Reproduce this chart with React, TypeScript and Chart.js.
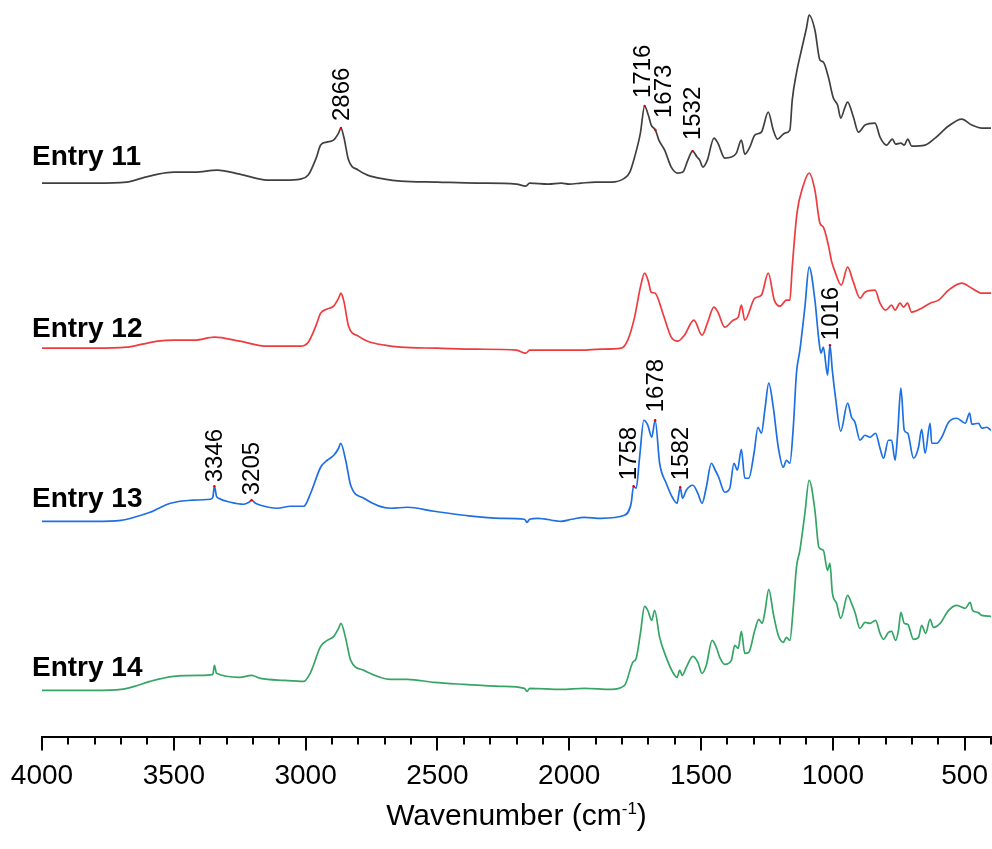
import React, { useEffect, useRef } from "react";
import { Chart, registerables } from "chart.js";

Chart.register(...registerables);

// ---------- data (wavenumber in cm-1, intensity in arbitrary units above each trace's baseline) ----------
const SERIES_NAMES = ["Entry 11", "Entry 12", "Entry 13", "Entry 14"];
const SERIES_COLORS = ["#404040", "#ee3b3e", "#1d6fe2", "#35a565"];
const SERIES_OFFSETS = [554, 389, 216, 47];

const WN_11 = [4000, 3800, 3680, 3620, 3560, 3500, 3420, 3335, 3250, 3145, 3080, 3020, 2990, 2960, 2943, 2920, 2894, 2875, 2866, 2855, 2837, 2800, 2765, 2700, 2640, 2500, 2350, 2200, 2165, 2150, 2080, 2030, 2000, 1955, 1900, 1841, 1790, 1770, 1752, 1730, 1714, 1700, 1689, 1673, 1660, 1638, 1613, 1588, 1569, 1550, 1532, 1515, 1505, 1493, 1476, 1451, 1436, 1410, 1385, 1366, 1347, 1334, 1315, 1296, 1271, 1245, 1226, 1210, 1182, 1163, 1154, 1138, 1119, 1100, 1090, 1068, 1049, 1036, 1017, 998, 982, 970, 955, 944, 922, 903, 878, 840, 821, 796, 774, 762, 742, 729, 716, 701, 650, 612, 561, 511, 473, 435, 400];
const AB_11 = [0, 0, 1, 5, 9, 11, 11, 13, 9, 3, 3, 4, 8, 25, 38, 41, 43, 50, 55, 46, 23, 13, 8, 4, 2, 1, 0, -1, -3, 0, -1, 0, -1, 0, 1, 1, 5, 11, 26, 50, 77, 68, 58, 53, 43, 33, 16, 10, 11, 23, 32, 26, 23, 16, 23, 45, 40, 25, 26, 30, 43, 29, 36, 48, 51, 71, 53, 44, 50, 53, 83, 110, 133, 155, 168, 153, 123, 121, 106, 85, 78, 65, 75, 81, 66, 51, 58, 60, 46, 38, 44, 39, 40, 38, 44, 37, 38, 45, 57, 64, 58, 55, 55];

const WN_12 = [4000, 3800, 3680, 3620, 3560, 3500, 3420, 3346, 3250, 3145, 3020, 2990, 2960, 2943, 2920, 2894, 2875, 2866, 2855, 2837, 2800, 2765, 2700, 2640, 2500, 2350, 2200, 2165, 2150, 2030, 1955, 1880, 1803, 1778, 1752, 1730, 1714, 1700, 1689, 1674, 1645, 1613, 1588, 1563, 1527, 1496, 1476, 1451, 1436, 1410, 1378, 1359, 1347, 1334, 1296, 1271, 1245, 1222, 1201, 1176, 1163, 1154, 1136, 1114, 1090, 1068, 1049, 1036, 1017, 1004, 994, 968, 944, 922, 897, 878, 840, 821, 800, 777, 764, 745, 732, 717, 701, 663, 631, 599, 561, 511, 473, 435, 400];
const AB_12 = [0, 0, 1, 4, 7, 8, 8, 11, 7, 2, 2, 6, 23, 35, 39, 42, 50, 55, 47, 22, 12, 7, 3, 1, 0, -1, -2, -5, -2, -2, -2, -1, 0, 8, 31, 61, 75, 67, 56, 55, 35, 11, 7, 13, 28, 13, 25, 41, 36, 21, 28, 31, 43, 28, 50, 53, 75, 48, 42, 48, 48, 81, 135, 161, 175, 158, 125, 121, 103, 86, 78, 63, 81, 66, 50, 56, 58, 45, 38, 43, 38, 45, 41, 45, 36, 40, 45, 48, 58, 65, 60, 55, 55];

const WN_13 = [4000, 3800, 3700, 3650, 3590, 3513, 3437, 3361, 3352, 3346, 3338, 3330, 3285, 3235, 3215, 3205, 3190, 3171, 3108, 3057, 3007, 2981, 2943, 2918, 2893, 2875, 2867, 2848, 2829, 2779, 2677, 2614, 2513, 2399, 2259, 2170, 2160, 2150, 2120, 2031, 1990, 1943, 1879, 1790, 1765, 1756, 1746, 1733, 1717, 1702, 1687, 1674, 1657, 1632, 1607, 1591, 1579, 1570, 1556, 1531, 1512, 1496, 1480, 1461, 1446, 1433, 1410, 1391, 1375, 1362, 1347, 1334, 1319, 1299, 1284, 1271, 1258, 1243, 1226, 1207, 1188, 1176, 1163, 1150, 1138, 1125, 1106, 1090, 1068, 1053, 1045, 1036, 1020, 1011, 1002, 990, 970, 944, 929, 916, 897, 878, 859, 838, 821, 808, 789, 777, 764, 754, 742, 729, 716, 694, 675, 663, 650, 631, 625, 606, 587, 561, 530, 498, 481, 473, 447, 435, 416, 400];
const AB_13 = [0, 0, 1, 4, 9, 18, 21, 22, 24, 35, 25, 23, 19, 17, 19, 21, 18, 16, 13, 15, 15, 28, 54, 61, 66, 73, 78, 61, 36, 23, 13, 14, 10, 6, 3, 2, -1, 2, 3, 0, 2, 4, 3, 6, 18, 35, 33, 64, 101, 96, 84, 101, 58, 38, 23, 18, 34, 23, 31, 36, 28, 18, 34, 58, 51, 44, 29, 33, 58, 51, 72, 43, 43, 68, 94, 88, 111, 138, 114, 74, 54, 61, 58, 94, 148, 171, 214, 254, 221, 181, 168, 174, 146, 176, 151, 124, 90, 118, 104, 99, 81, 86, 84, 88, 73, 63, 81, 81, 61, 88, 133, 91, 88, 63, 74, 92, 68, 98, 78, 78, 84, 99, 103, 98, 108, 97, 98, 93, 94, 91];

const WN_14 = [4000, 3800, 3700, 3650, 3590, 3500, 3400, 3352, 3346, 3338, 3250, 3205, 3171, 3080, 3007, 2981, 2943, 2918, 2893, 2875, 2866, 2848, 2829, 2779, 2677, 2614, 2513, 2399, 2259, 2170, 2160, 2150, 2031, 1943, 1841, 1790, 1759, 1746, 1730, 1714, 1702, 1687, 1676, 1657, 1632, 1607, 1591, 1581, 1571, 1556, 1531, 1512, 1496, 1480, 1458, 1442, 1429, 1410, 1385, 1372, 1359, 1347, 1334, 1319, 1296, 1281, 1268, 1258, 1243, 1226, 1207, 1188, 1176, 1163, 1150, 1138, 1125, 1106, 1090, 1068, 1053, 1036, 1020, 1011, 1002, 986, 970, 944, 929, 916, 897, 878, 859, 838, 821, 808, 789, 777, 762, 751, 742, 729, 716, 694, 675, 663, 648, 631, 619, 593, 561, 530, 498, 479, 470, 450, 435, 400];
const AB_14 = [0, 0, 1, 4, 9, 14, 15, 16, 25, 17, 13, 15, 12, 10, 9, 18, 44, 50, 54, 62, 67, 52, 30, 20, 11, 11, 8, 6, 4, 2, -1, 2, 1, 2, 1, 5, 28, 32, 57, 84, 80, 70, 80, 53, 33, 18, 13, 20, 15, 23, 34, 28, 17, 25, 50, 43, 33, 26, 30, 45, 42, 59, 37, 38, 60, 71, 67, 78, 101, 77, 55, 48, 53, 50, 83, 123, 140, 177, 210, 180, 143, 140, 120, 127, 98, 87, 72, 95, 87, 78, 62, 68, 67, 70, 57, 51, 58, 59, 50, 60, 78, 67, 66, 51, 53, 65, 57, 71, 63, 67, 80, 85, 82, 88, 80, 78, 75, 74];

const SERIES_WN = [WN_11, WN_12, WN_13, WN_14];
const SERIES_AB = [AB_11, AB_12, AB_13, AB_14];

const MAJOR_TICKS = [4000, 3500, 3000, 2500, 2000, 1500, 1000, 500];
const MINOR_TICKS = [3900, 3800, 3700, 3600, 3400, 3300, 3200, 3100, 2900, 2800, 2700, 2600, 2400, 2300, 2200, 2100, 1900, 1800, 1700, 1600, 1400, 1300, 1200, 1100, 900, 800, 700, 600, 400];

// peak annotations: series index, wavenumber, label text
const PEAK_SERIES = [0, 0, 0, 0, 2, 2, 2, 2, 2, 2];
const PEAK_WN = [2866, 1716, 1673, 1532, 3346, 3205, 1758, 1678, 1582, 1016];
const PEAK_TEXT = ["2866", "1716", "1673", "1532", "3346", "3205", "1758", "1678", "1582", "1016"];
const PEAK_NUDGE = [0, -2, 8, 0, 0, 0, -5, 0, 0, 0];
const PEAK_GAP = [7, 8, 12, 11, 4, 5, 6, 8, 7, 5];

const ENTRY_LABEL_RISE = [18, 11, 14, 14];

const FONT = "'Liberation Sans', Arial, Helvetica, sans-serif";

const overlayPlugin = {
  id: "overlay",
  afterDraw(chart: any) {
    const { ctx, chartArea } = chart;
    const xs = chart.scales.x;
    const ys = chart.scales.y;
    ctx.save();

    // major + minor ticks
    ctx.strokeStyle = "#000";
    ctx.lineWidth = 2;
    const drawTick = (v: number, len: number) => {
      const px = Math.round(xs.getPixelForValue(v));
      ctx.beginPath();
      ctx.moveTo(px, chartArea.bottom);
      ctx.lineTo(px, chartArea.bottom + len);
      ctx.stroke();
    };
    MAJOR_TICKS.forEach((v) => drawTick(v, 13));
    MINOR_TICKS.forEach((v) => drawTick(v, 7));

    // axis title with superscript
    const cx = (chartArea.left + chartArea.right) / 2;
    const base = chartArea.bottom + 88;
    const mainFont = `30px ${FONT}`;
    const supFont = `17px ${FONT}`;
    ctx.fillStyle = "#000";
    ctx.textBaseline = "alphabetic";
    ctx.textAlign = "left";
    ctx.font = mainFont;
    const t1 = "Wavenumber (cm";
    const t3 = ")";
    const w1 = ctx.measureText(t1).width;
    const w3 = ctx.measureText(t3).width;
    ctx.font = supFont;
    const t2 = "-1";
    const w2 = ctx.measureText(t2).width;
    let sx = cx - (w1 + w2 + w3) / 2;
    ctx.font = mainFont;
    ctx.fillText(t1, sx, base);
    sx += w1;
    ctx.font = supFont;
    ctx.fillText(t2, sx, base - 11);
    sx += w2;
    ctx.font = mainFont;
    ctx.fillText(t3, sx, base);

    // entry labels
    ctx.font = `bold 28px ${FONT}`;
    SERIES_NAMES.forEach((name, i) => {
      const py = ys.getPixelForValue(SERIES_OFFSETS[i] + ENTRY_LABEL_RISE[i]);
      ctx.fillText(name, 32, py);
    });

    // peak labels
    ctx.font = `24px ${FONT}`;
    PEAK_WN.forEach((wn, k) => {
      const s = PEAK_SERIES[k];
      const wns = SERIES_WN[s];
      const abs = SERIES_AB[s];
      let best = -1;
      for (let j = 0; j < wns.length; j++) {
        if (Math.abs(wns[j] - wn) <= 8 && (best < 0 || abs[j] > abs[best])) best = j;
      }
      if (best < 0) return;
      const px = xs.getPixelForValue(wns[best]);
      const py = ys.getPixelForValue(abs[best] + SERIES_OFFSETS[s]);
      ctx.fillStyle = "#e00000";
      ctx.beginPath();
      ctx.arc(px, py, 1.2, 0, Math.PI * 2);
      ctx.fill();
      ctx.save();
      ctx.translate(px + PEAK_NUDGE[k], py - PEAK_GAP[k]);
      ctx.rotate(-Math.PI / 2);
      ctx.fillStyle = "#000";
      ctx.textAlign = "left";
      ctx.textBaseline = "middle";
      ctx.fillText(PEAK_TEXT[k], 0, 1);
      ctx.restore();
    });

    ctx.restore();
  },
};

export default function App() {
  const canvasRef = useRef<HTMLCanvasElement | null>(null);

  useEffect(() => {
    const canvas = canvasRef.current;
    if (!canvas) return;
    const datasets = SERIES_NAMES.map((name, i) => ({
      label: name,
      data: SERIES_WN[i].map((w, j) => ({ x: w, y: SERIES_AB[i][j] + SERIES_OFFSETS[i] })),
      borderColor: SERIES_COLORS[i],
      backgroundColor: SERIES_COLORS[i],
      borderWidth: 1.7,
      pointRadius: 0,
      cubicInterpolationMode: "monotone" as const,
      fill: false,
    }));
    const chart = new Chart(canvas, {
      type: "line",
      data: { datasets },
      options: {
        animation: false,
        responsive: false,
        maintainAspectRatio: false,
        layout: { padding: { left: 42, right: 1, top: 5, bottom: 53 } },
        plugins: { legend: { display: false }, tooltip: { enabled: false } },
        scales: {
          x: {
            type: "linear",
            reverse: true,
            min: 400,
            max: 4000,
            afterBuildTicks: (axis: any) => {
              axis.ticks = MAJOR_TICKS.map((v) => ({ value: v }));
            },
            grid: {
              drawOnChartArea: false,
              drawTicks: true,
              tickLength: 19,
              tickWidth: 0,
              tickColor: "rgba(0,0,0,0)",
            },
            border: { display: true, color: "#000", width: 2 },
            ticks: {
              color: "#000",
              font: { family: FONT, size: 28 },
              padding: 3,
              maxRotation: 0,
              autoSkip: false,
              callback: (v: any) => String(v),
            },
          },
          y: { display: false, min: 0, max: 732 },
        },
      },
      plugins: [overlayPlugin],
    });
    return () => chart.destroy();
  }, []);

  return (
    <div style={{ position: "fixed", left: 0, top: 0, width: 992, height: 849, background: "#fff" }}>
      <canvas ref={canvasRef} width={992} height={849} style={{ display: "block" }} />
    </div>
  );
}
